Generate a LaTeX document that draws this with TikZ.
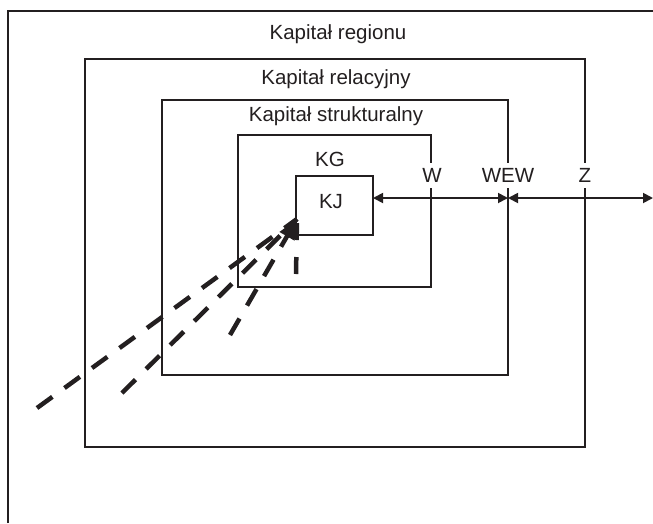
\documentclass[tikz,border=0pt]{standalone}
\usepackage{fontspec}
\setmainfont{Liberation Sans}
\usetikzlibrary{arrows.meta}
\definecolor{ink}{RGB}{35,31,32}

\begin{document}
\begin{tikzpicture}[x=1pt, y=-1pt, line width=1.6pt, draw=ink, ink,
    lbl/.style={font=\fontsize{20.5}{24}\selectfont, inner sep=0pt, text=ink},
    tag/.style={lbl, fill=white, inner xsep=2pt, inner ysep=5.5pt},
    span/.style={{Triangle[length=10pt,width=10pt]}-{Triangle[length=10pt,width=10pt]}, line width=1.8pt},
    flow/.style={line width=4.5pt, dash pattern=on 19pt off 15pt}]
    \useasboundingbox (0,0) rectangle (653,523);

    % nested boxes
    \draw (8,523) -- (8,11) -- (653,11);
    \draw (85,59) rectangle (585,447);
    \draw (162,100) rectangle (508,375);
    \draw (238,135) rectangle (431,287);
    \draw (296,176) rectangle (373,235);

    % box titles
    \node[lbl] (regionu) at (338,34) {Kapitał regionu};
    \node[lbl] (relacyjny) at (336,79) {Kapitał relacyjny};
    \node[lbl] (strukturalny) at (336,116) {Kapitał strukturalny};
    \node[lbl] (kg) at (330,159) {KG};
    \node[lbl] (kj) at (331,202) {KJ};

    % boundary labels
    \node[tag] (w) at (432,175.5) {W};
    \node[tag] (wew) at (508,175.5) {WEW};
    \node[tag] (z) at (585,175.5) {Z};

    % distances
    \coordinate (kjr) at (373,198);
    \coordinate (wewl) at (508,198);
    \coordinate (edge) at (653,198);
    \draw[span] (kjr) -- (wewl);
    \draw[span] (wewl) -- (edge);

    % inflows
    \coordinate (tip) at (297,219);
    \coordinate (s1) at (37,408);
    \coordinate (s2) at (122,393);
    \coordinate (s3) at (230,335);
    \coordinate (s4) at (296,274);
    \draw[flow] (s1) -- (tip);
    \draw[flow] (s2) -- (tip);
    \draw[flow, -{Triangle[length=20pt,width=16pt]}] (s3) -- (tip);
    \draw[flow, dash pattern=on 17pt off 17pt] (s4) -- (tip);
\end{tikzpicture}
\end{document}
